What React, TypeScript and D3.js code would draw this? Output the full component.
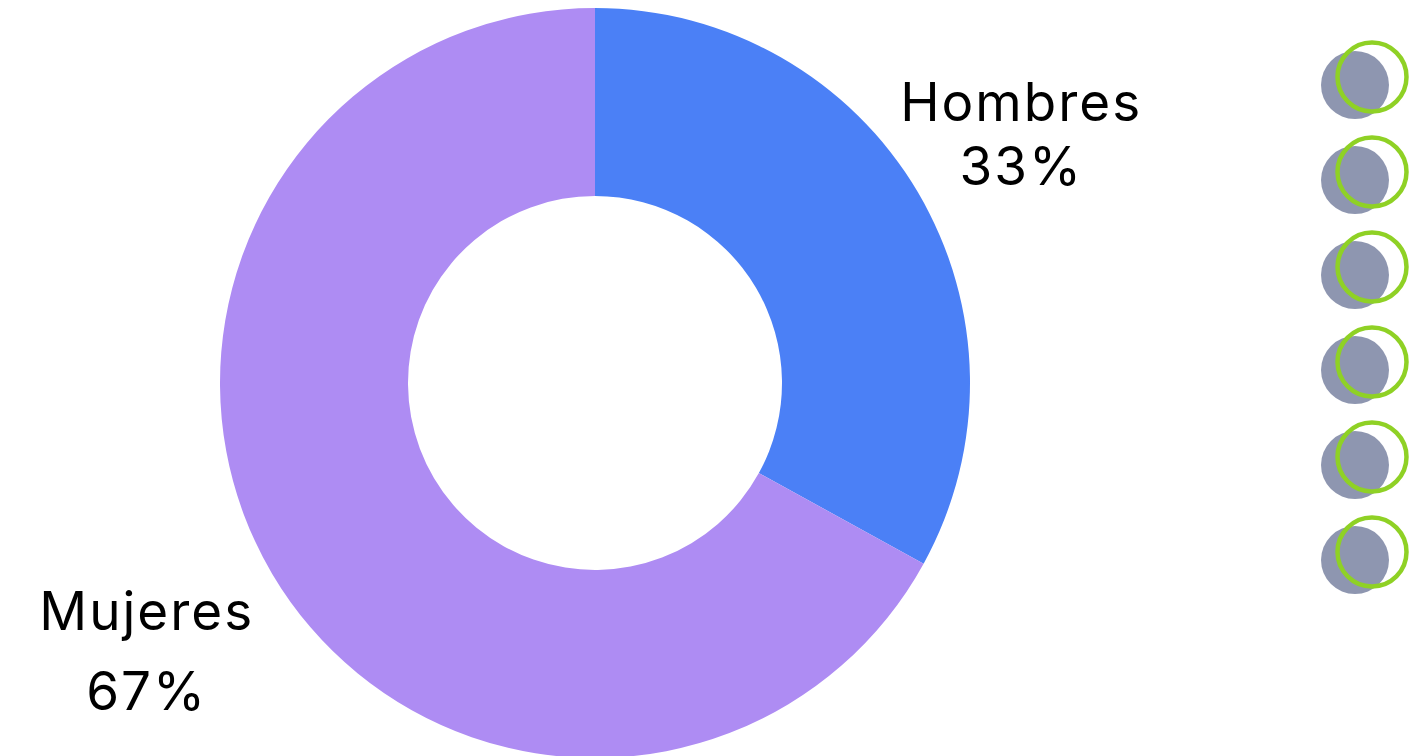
import React from 'react';
import * as d3 from "d3";

// donut data
const categories = ["Hombres", "Mujeres"];
const shares = [33, 67];
const colors = ["#4b80f6", "#ae8cf3"];
// decorative markers on the right
const markers = [0, 1, 2, 3, 4, 5];

const width = 1422;
const height = 756;
const cx = 595;
const cy = 383;
const outerR = 375;
const innerR = 187;

const App = () => {
  const pie = d3.pie<number>().sort(null).startAngle(0).endAngle(2 * Math.PI);
  const arcs = pie(shares);
  const arc = d3.arc<d3.PieArcDatum<number>>().innerRadius(innerR).outerRadius(outerR);

  // labels sit outside the ring, a bit further for the big slice
  const labelRadius = [494, 522];
  const lineGap = [64, 80];

  const markerY = d3.scalePoint<number>().domain(markers).range([85, 560]);

  return (
    <div style={{ position: "absolute", left: 0, top: 0 }}>
      <svg width={width} height={height} style={{ display: "block" }}>
        <g transform={`translate(${cx},${cy})`}>
          {arcs.map((a, i) => (
            <path key={categories[i]} d={arc(a) || ""} fill={colors[i]} />
          ))}
          {arcs.map((a, i) => {
            const la = d3.arc<d3.PieArcDatum<number>>().innerRadius(labelRadius[i]).outerRadius(labelRadius[i]);
            const [x, y] = la.centroid(a);
            const g = lineGap[i];
            return (
              <text key={"l" + i} x={x} y={y} textAnchor="middle"
                fontFamily="Inter, 'Open Sans', sans-serif" fontSize={53} letterSpacing={2} fill="#000">
                <tspan x={x + 1} y={y - g / 2 + 21}>{categories[i]}</tspan>
                <tspan x={x + 1} y={y + g / 2 + 21}>{shares[i]}%</tspan>
              </text>
            );
          })}
        </g>
        {markers.map(m => (
          <g key={m}>
            <circle cx={1355} cy={markerY(m)} r={34} fill="#8e96b0" />
            <circle cx={1372} cy={(markerY(m) || 0) - 8} r={34.5} fill="none" stroke="#8fd125" strokeWidth={4.5} />
          </g>
        ))}
      </svg>
    </div>
  );
};

export default App;
